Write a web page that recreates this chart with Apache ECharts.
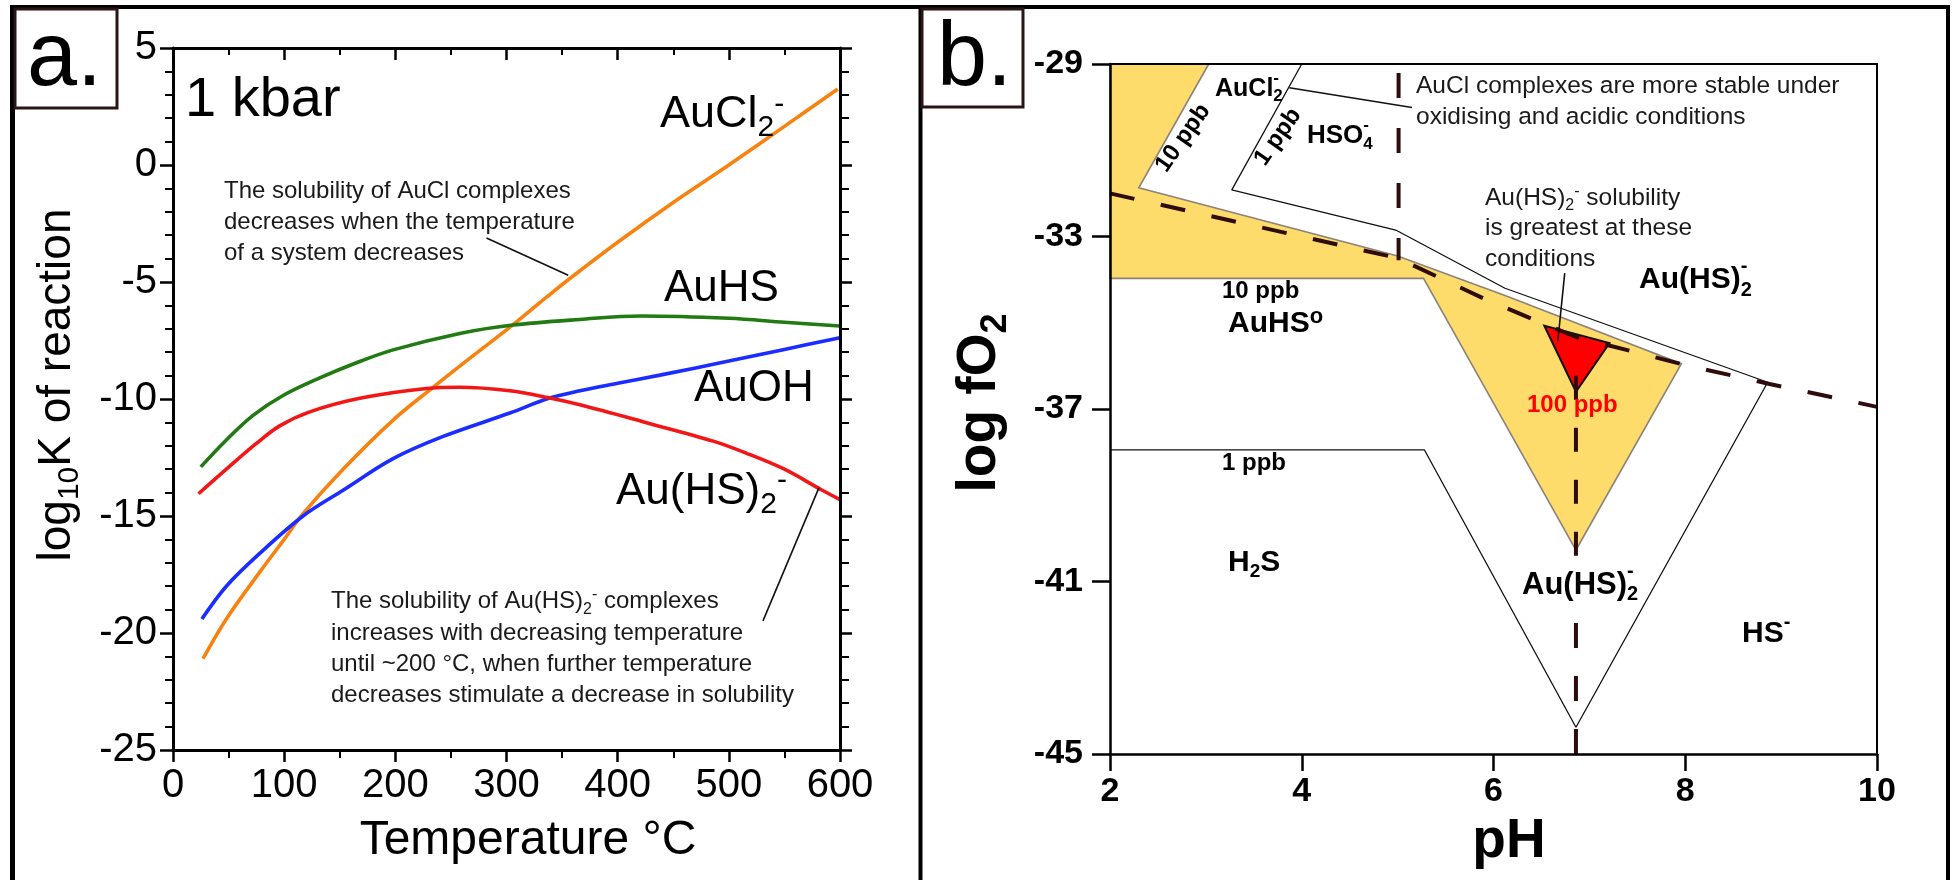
<!DOCTYPE html>
<html>
<head>
<meta charset="utf-8">
<script src="https://cdn.jsdelivr.net/npm/echarts@6/dist/echarts.min.js"></script>
<style>
  html, body { margin: 0; padding: 0; background: #fff; }
  #main { width: 1952px; height: 880px; }
</style>
</head>
<body>
<div id="main"></div>
<script>
/** fonts */
const FONT = '"Liberation Sans", Arial, sans-serif';

/** panel a : log10K vs temperature (°C) */
const auCl2 = [[27,-21.1],[48,-19.4],[78,-17.4],[100,-16.0],[117,-14.9],[153,-13.0],[198,-10.9],[234,-9.5],[270,-8.15],[304,-6.9],[336,-5.65],[357,-4.85],[400,-3.3],[450,-1.6],[500,0.0],[550,1.65],[598,3.25]];
const auHS  = [[25,-12.9],[48,-11.75],[72,-10.7],[99,-9.85],[132,-9.1],[165,-8.45],[198,-7.9],[258,-7.2],[304,-6.85],[366,-6.6],[421,-6.45],[500,-6.55],[550,-6.72],[600,-6.88]];
const auOH  = [[26,-19.4],[48,-18.0],[78,-16.6],[117,-15.0],[153,-13.9],[198,-12.55],[243,-11.6],[303,-10.6],[338,-9.97],[366,-9.65],[400,-9.33],[438,-8.98],[500,-8.38],[550,-7.88],[600,-7.38]];
const auHS2 = [[23,-14.05],[48,-13.0],[75,-11.9],[96,-11.15],[123,-10.55],[168,-9.97],[228,-9.55],[258,-9.5],[303,-9.65],[338,-9.95],[366,-10.25],[425,-11.0],[486,-11.8],[515,-12.3],[550,-13.0],[584,-13.9],[600,-14.3]];
const leaderCl = [[282,-3.12],[355.5,-4.71]];
const leaderHS = [[530.7,-19.48],[581,-13.8]];

/** panel b : log fO2 vs pH */
const yellowZone = [[2,-29],[3.03,-29],[2.3,-31.87],[5.0,-33.45],[6.12,-34.37],[7.96,-35.95],[6.86,-40.27],[5.27,-33.97],[2,-33.97]];
const ppb1Line   = [[4.0,-29],[3.27,-31.92],[4.98,-32.85],[6.12,-34.2],[8.86,-36.38],[6.86,-44.38],[5.28,-37.95],[2,-37.95]];
const redZone    = [[6.53,-35.07],[7.21,-35.47],[6.86,-36.6]];
const fo2Line    = [[2,-32.0],[5.0,-33.5],[5.93,-34.47],[6.5,-35.0],[6.86,-35.33],[8.0,-35.98],[8.88,-36.42],[10,-36.95]];
const ph5Line    = [[5.01,-29.21],[5.01,-33.55]];
const ph686Upper = [[6.86,-36.23],[6.86,-40.5]];
const ph686Lower = [[6.86,-41.96],[6.86,-45]];
const leaderAuCl = [[3.87,-29.55],[5.15,-30.01]];
const leaderTri  = [[6.743,-33.85],[6.67,-35.44]];
const fo2Ticks   = [-45,-41,-37,-33,-29];

/** 文字宽度测量 */
const ctx = document.createElement('canvas').getContext('2d');
function textWidth(s, font) { ctx.font = font; return ctx.measureText(s).width; }
function fnt(size, weight) { return (weight || 'normal') + ' ' + size + 'px ' + FONT; }

// single text, positioned by baseline
function txt(x, base, str, size, weight, color) {
  return { type: 'text', x: x, y: base - 0.3465 * size, z: 100, silent: true,
    style: { text: str, font: fnt(size, weight), fill: color || '#000', align: 'left', verticalAlign: 'middle' } };
}
// multi-line text, first baseline given
function multi(x, base, str, size, lh, weight, color) {
  return { type: 'text', x: x, y: base - 0.3465 * size - lh / 2, z: 100, silent: true,
    style: { text: str, font: fnt(size, weight), fill: color || '#000', align: 'left', verticalAlign: 'top', lineHeight: lh } };
}
// text with sub/superscripts: 'b' = sub, 'p' = sup, 'ps' = sup stacked over previous
function chem(x, base, parts, o) {
  const out = [];
  let cx = x, lastX = x;
  parts.forEach(function (p) {
    const kind = p[1] || 'n';
    const size = kind === 'n' ? o.size : o.small;
    const dy = kind === 'n' ? 0 : (kind === 'b' ? o.sub : o.sup);
    const f = fnt(size, o.weight);
    const px = kind === 'ps' ? lastX : cx;
    out.push({ type: 'text', x: px, y: base + dy - 0.3465 * size, z: 100, silent: true,
      style: { text: p[0], font: f, fill: o.color || '#000', align: 'left', verticalAlign: 'middle' } });
    const w = textWidth(p[0], f);
    if (kind === 'ps') { cx = Math.max(cx, px + w); }
    else { lastX = px; cx = px + w; }
  });
  out.width = cx - x;
  return out;
}
function vertical(x, y, parts, o) {
  const w = chem(0, 0, parts, o).width;
  return { type: 'group', x: x, y: y, rotation: Math.PI / 2, z: 100, children: chem(-w / 2, 0, parts, o) };
}
function rotated(x, y, str, size, deg) {
  return { type: 'text', x: x, y: y, rotation: deg * Math.PI / 180, z: 100, silent: true,
    style: { text: str, font: fnt(size, 'bold'), fill: '#000', align: 'center', verticalAlign: 'middle' } };
}

function curve(data, color) {
  return { type: 'line', xAxisIndex: 0, yAxisIndex: 0, data: data, symbol: 'none', smooth: 0.35, silent: true,
    lineStyle: { color: color, width: 3.6 }, emphasis: { disabled: true } };
}
// xi: 0 = panel a axes, 2 = panel b axes
function seg(data, xi, color, width, dash, z) {
  return { type: 'line', xAxisIndex: xi, yAxisIndex: xi, data: data, symbol: 'none', silent: true, z: z || 3,
    lineStyle: { color: color, width: width, type: dash || 'solid', cap: 'butt' }, emphasis: { disabled: true } };
}
function area(points, fill, stroke, lw) {
  return { type: 'custom', xAxisIndex: 2, yAxisIndex: 2, silent: true, data: points, z: 2,
    renderItem: function (params, api) {
      if (params.dataIndex !== 0) return null;
      return { type: 'polygon', shape: { points: points.map(function (p) { return api.coord(p); }) },
        style: { fill: fill, stroke: stroke, lineWidth: lw } };
    } };
}

const axisA = {
  type: 'value', gridIndex: 0, z: 10,
  axisLine: { show: true, onZero: false, lineStyle: { color: '#000', width: 3 } },
  splitLine: { show: false }
};
const axisB = {
  type: 'value', gridIndex: 1, z: 10,
  axisLine: { show: true, onZero: false, lineStyle: { color: '#000', width: 2.5 } },
  splitLine: { show: false }
};

const myChart = echarts.init(document.getElementById('main'));

const option = {
  backgroundColor: '#fff',
  animation: false,
  grid: [
    { left: 173, top: 48, width: 667, height: 702, outerBoundsMode: 'none' },
    { left: 1110, top: 64, width: 767, height: 690, outerBoundsMode: 'none' }
  ],
  xAxis: [
    Object.assign({}, axisA, { position: 'bottom', min: 0, max: 600, interval: 100,
      axisTick: { show: true, length: 12, lineStyle: { color: '#000', width: 2.5 } },
      minorTick: { show: true, splitNumber: 2, length: 8, lineStyle: { color: '#000', width: 2 } },
      axisLabel: { show: true, fontSize: 40, fontFamily: FONT, color: '#000', margin: 16, showMinLabel: true, showMaxLabel: true } }),
    Object.assign({}, axisA, { position: 'top', min: 0, max: 600, interval: 100,
      axisTick: { show: true, inside: true, length: 12, lineStyle: { color: '#000', width: 2.5 } },
      minorTick: { show: true, splitNumber: 2, length: 7, lineStyle: { color: '#000', width: 2 } },
      axisLabel: { show: false } }),
    Object.assign({}, axisB, { position: 'bottom', min: 2, max: 10, interval: 2,
      axisTick: { show: true, length: 17, lineStyle: { color: '#000', width: 2.5 } },
      axisLabel: { show: true, fontSize: 34, fontWeight: 'bold', fontFamily: FONT, color: '#000', margin: 21, showMinLabel: true, showMaxLabel: true } }),
    Object.assign({}, axisB, { position: 'top', min: 2, max: 10,
      axisLine: { show: true, onZero: false, lineStyle: { color: '#000', width: 2 } },
      axisTick: { show: false }, axisLabel: { show: false } })
  ],
  yAxis: [
    Object.assign({}, axisA, { position: 'left', min: -25, max: 5, interval: 5,
      axisTick: { show: true, length: 13, lineStyle: { color: '#000', width: 2.5 } },
      minorTick: { show: true, splitNumber: 5, length: 8, lineStyle: { color: '#000', width: 2 } },
      axisLabel: { show: true, fontSize: 40, fontFamily: FONT, color: '#000', margin: 16, showMinLabel: true, showMaxLabel: true } }),
    Object.assign({}, axisA, { position: 'right', min: -25, max: 5, interval: 5,
      axisTick: { show: true, length: 12, lineStyle: { color: '#000', width: 2.5 } },
      minorTick: { show: true, splitNumber: 5, length: 9, lineStyle: { color: '#000', width: 2 } },
      axisLabel: { show: false } }),
    Object.assign({}, axisB, { position: 'left', min: -45, max: -29,
      axisTick: { show: true, length: 18, customValues: fo2Ticks, lineStyle: { color: '#000', width: 2.5 } },
      axisLabel: { show: true, customValues: fo2Ticks, fontSize: 34, fontWeight: 'bold', fontFamily: FONT, color: '#000', margin: 27 } }),
    Object.assign({}, axisB, { position: 'right', min: -45, max: -29,
      axisLine: { show: true, onZero: false, lineStyle: { color: '#000', width: 2 } },
      axisTick: { show: false }, axisLabel: { show: false } })
  ],
  series: [
    curve(auCl2, '#f7820f'),
    curve(auHS, '#217a12'),
    curve(auOH, '#1a2cff'),
    curve(auHS2, '#f21616'),
    seg(leaderCl, 0, '#111', 1.6),
    seg(leaderHS, 0, '#111', 1.6),
    area(yellowZone, '#fddc6b', '#8c8279', 1.6),
    seg(ppb1Line, 2, '#111', 1.3),
    area(redZone, '#ff0000', '#111', 2),
    seg(fo2Line, 2, '#2e0c0c', 4, [25, 27], 4),
    seg(ph5Line, 2, '#2e0c0c', 4, [25, 30], 4),
    seg(ph686Upper, 2, '#2e0c0c', 4, [24, 28], 4),
    seg(ph686Lower, 2, '#2e0c0c', 4, [25, 28], 4),
    seg(leaderAuCl, 2, '#111', 1.6, null, 5),
    seg(leaderTri, 2, '#111', 1.6, null, 5)
  ],
  graphic: { elements: [].concat(
    [
      // frame
      { type: 'line', z: 90, shape: { x1: 10, y1: 7, x2: 1950, y2: 7 }, style: { stroke: '#000', lineWidth: 4 } },
      { type: 'line', z: 90, shape: { x1: 12.5, y1: 5, x2: 12.5, y2: 880 }, style: { stroke: '#000', lineWidth: 5 } },
      { type: 'line', z: 90, shape: { x1: 920.5, y1: 5, x2: 920.5, y2: 880 }, style: { stroke: '#000', lineWidth: 4 } },
      { type: 'line', z: 90, shape: { x1: 1948, y1: 5, x2: 1948, y2: 880 }, style: { stroke: '#000', lineWidth: 4 } },
      { type: 'rect', z: 95, shape: { x: 15, y: 9, width: 102, height: 99 }, style: { fill: '#fff', stroke: '#2a1515', lineWidth: 3 } },
      { type: 'rect', z: 95, shape: { x: 922, y: 9, width: 101, height: 98 }, style: { fill: '#fff', stroke: '#2a1515', lineWidth: 3 } },
      txt(27, 91, 'a.', 90),
      txt(937, 91, 'b.', 90),
      // panel a labels
      txt(185, 120, '1 kbar', 56),
      txt(664, 304, 'AuHS', 44),
      txt(694, 404, 'AuOH', 44),
      multi(224, 200, 'The solubility of AuCl complexes\ndecreases when the temperature\nof a system decreases', 24, 31, 'normal', '#1a1a1a'),
      multi(331, 641.7, 'increases with decreasing temperature\nuntil ~200 \u00B0C, when further temperature\ndecreases stimulate a decrease in solubility', 24, 31, 'normal', '#1a1a1a'),
      { type: 'text', x: 528, y: 857 - 0.3465 * 48, z: 100, silent: true,
        style: { text: 'Temperature \u00B0C', font: fnt(48), fill: '#000', align: 'center', verticalAlign: 'middle' } },
      vertical(73, 385, [['log'], ['10', 'b'], ['K of reaction']], { size: 46, small: 30, sub: 7 }),
      // panel b labels
      rotated(1183, 138, '10 ppb', 24, 55),
      rotated(1278, 137, '1 ppb', 24, 55),
      multi(1416, 95, 'AuCl complexes are more stable under\noxidising and acidic conditions', 24.5, 31, 'normal', '#1a1a1a'),
      multi(1485, 237, 'is greatest at these\nconditions', 24.5, 31, 'normal', '#1a1a1a'),
      txt(1222, 300, '10 ppb', 24, 'bold'),
      txt(1527, 414, '100 ppb', 24, 'bold', '#ff0000'),
      txt(1222, 471.7, '1 ppb', 24, 'bold'),
      { type: 'text', x: 1509, y: 861 - 0.3465 * 55, z: 100, silent: true,
        style: { text: 'pH', font: fnt(55, 'bold'), fill: '#000', align: 'center', verticalAlign: 'middle' } },
      vertical(999, 403, [['log fO'], ['2', 'b']], { size: 55, small: 36, sub: 10, weight: 'bold' })
    ],
    chem(660, 130, [['AuCl'], ['2', 'b'], ['-', 'p']], { size: 45, small: 30, sub: 8, sup: -15 }),
    chem(616, 507, [['Au(HS)'], ['2', 'b'], ['-', 'p']], { size: 44, small: 30, sub: 8, sup: -16 }),
    chem(331, 610, [['The solubility of Au(HS)'], ['2', 'b'], ['-', 'p'], [' complexes']], { size: 24, small: 16, sub: 5, sup: -10, color: '#1a1a1a' }),
    chem(1215, 97.3, [['AuCl'], ['2', 'b'], ['-', 'ps']], { size: 25, small: 17, sub: 5, sup: -13, weight: 'bold' }),
    chem(1307, 145, [['HSO'], ['4', 'b'], ['-', 'ps']], { size: 26, small: 17, sub: 5, sup: -14, weight: 'bold' }),
    chem(1485, 206.7, [['Au(HS)'], ['2', 'b'], ['-', 'p'], [' solubility']], { size: 24.5, small: 16, sub: 4, sup: -10, color: '#1a1a1a' }),
    chem(1639, 290, [['Au(HS)'], ['2', 'b'], ['-', 'ps']], { size: 30, small: 20, sub: 7, sup: -17, weight: 'bold' }),
    chem(1228, 334, [['AuHS'], ['o', 'p']], { size: 30, small: 22, sup: -9, weight: 'bold' }),
    chem(1228, 573.3, [['H'], ['2', 'b'], ['S']], { size: 30, small: 19, sub: 5, weight: 'bold' }),
    chem(1522, 596, [['Au(HS)'], ['2', 'b'], ['-', 'ps']], { size: 31, small: 20, sub: 5, sup: -18, weight: 'bold' }),
    chem(1742, 644, [['HS'], ['-', 'p']], { size: 30, small: 20, sup: -15, weight: 'bold' })
  ) }
};

myChart.setOption(option);
</script>
</body>
</html>
